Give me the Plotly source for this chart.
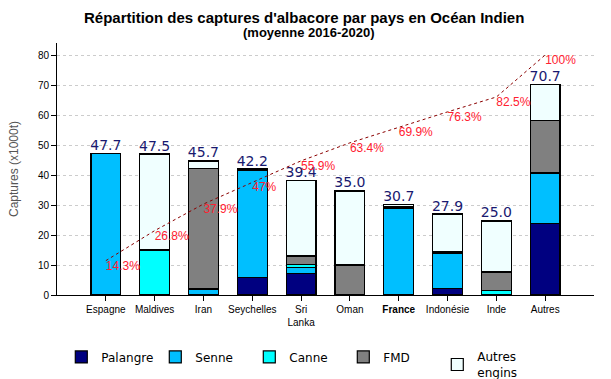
import plotly.graph_objects as go

categories = ["Espagne", "Maldives", "Iran", "Seychelles", "Sri<br>Lanka", "Oman",
              "<b>France</b>", "Indonésie", "Inde", "Autres"]
palangre = [0.0, 0.0, 0.0, 5.8, 7.1, 0.0, 0.0, 2.3, 0.3, 23.8]
senne = [47.3, 0.0, 2.0, 35.6, 2.2, 0.0, 29.0, 11.7, 0.0, 16.9]
canne = [0.0, 15.0, 0.0, 0.0, 0.9, 0.0, 0.6, 0.0, 1.3, 0.0]
fmd = [0.0, 0.0, 40.3, 0.3, 2.8, 10.0, 0.0, 0.6, 6.1, 17.4]
autres_engins = [0.0, 32.0, 2.4, 0.3, 25.3, 24.7, 0.7, 12.4, 17.0, 12.0]
totals = ["47.7", "47.5", "45.7", "42.2", "39.4", "35.0", "30.7", "27.9", "25.0", "70.7"]
cum_pct = [14.3, 26.8, 37.9, 47.0, 55.9, 63.4, 69.9, 76.3, 82.5, 100.0]
cum_labels = ["14.3%", "26.8%", "37.9%", "47%", "55.9%", "63.4%", "69.9%", "76.3%", "82.5%", "100%"]

series = [
    ("Palangre", palangre, "#000080"),
    ("Senne", senne, "#00BFFF"),
    ("Canne", canne, "#00FFFF"),
    ("FMD", fmd, "#808080"),
    ("Autres<br>engins", autres_engins, "#F0FFFF"),
]

fig = go.Figure()
for name, vals, col in series:
    fig.add_trace(go.Bar(
        x=categories, y=vals, name=name, width=0.61,
        marker=dict(color=col, line=dict(color="black", width=1.2)),
        hoverinfo="skip",
    ))

stack_tops = [sum(v) for v in zip(palangre, senne, canne, fmd, autres_engins)]
fig.add_trace(go.Scatter(
    x=categories, y=stack_tops, mode="text", text=totals,
    textposition="top center", showlegend=False, hoverinfo="skip",
    textfont=dict(family="DejaVu Sans", size=14, color="#191970"),
))

fig.add_trace(go.Scatter(
    x=categories, y=cum_pct, yaxis="y2", mode="lines+text", text=cum_labels,
    textposition="bottom right", showlegend=False, hoverinfo="skip",
    line=dict(color="#8B0000", width=1, dash="dot"),
    textfont=dict(family="Liberation Sans", size=12, color="#FF2030"),
))

fig.add_annotation(
    text="<b>Répartition des captures d'albacore par pays en Océan Indien</b>",
    xref="paper", yref="paper", x=0.46, y=1.103, xanchor="center", yanchor="middle",
    showarrow=False, font=dict(family="Liberation Sans", size=15, color="black"),
)
fig.add_annotation(
    text="<b>(moyenne 2016-2020)</b>",
    xref="paper", yref="paper", x=0.47, y=1.04, xanchor="center", yanchor="middle",
    showarrow=False, font=dict(family="Liberation Sans", size=13, color="black"),
)

fig.update_layout(
    width=611, height=379,
    margin=dict(l=57, r=17, t=43, b=84, autoexpand=False),
    paper_bgcolor="white", plot_bgcolor="white",
    barmode="stack",
    font=dict(family="Liberation Sans", size=10, color="black"),
    xaxis=dict(
        type="category", range=[-1, 10], showline=True, linecolor="black", linewidth=1,
        ticks="outside", ticklen=5, tickcolor="black", showgrid=False,
        tickfont=dict(family="Liberation Sans", size=10, color="black"),
    ),
    yaxis=dict(
        range=[0, 84], tickvals=[0, 10, 20, 30, 40, 50, 60, 70, 80],
        showline=True, linecolor="black", linewidth=1,
        ticks="outside", ticklen=5, tickcolor="black",
        showgrid=True, gridcolor="#cccccc", griddash="dot", gridwidth=1,
        zeroline=False,
        tickfont=dict(family="Liberation Sans", size=10, color="black"),
        title=dict(text="Captures (x1000t)", standoff=16,
                   font=dict(family="Liberation Sans", size=12, color="#555555")),
    ),
    yaxis2=dict(range=[0, 105], overlaying="y", visible=False),
    legend=dict(
        orientation="h", x=0.008, xanchor="left", y=-0.188, yanchor="top",
        entrywidth=49, entrywidthmode="pixels", traceorder="normal",
        font=dict(family="DejaVu Sans", size=12, color="black"),
        bgcolor="rgba(0,0,0,0)",
    ),
)

fig.write_html(
    "out.html",
    config={"displayModeBar": False},
    post_script="document.body.style.margin='0';document.body.style.overflow='hidden';",
)
